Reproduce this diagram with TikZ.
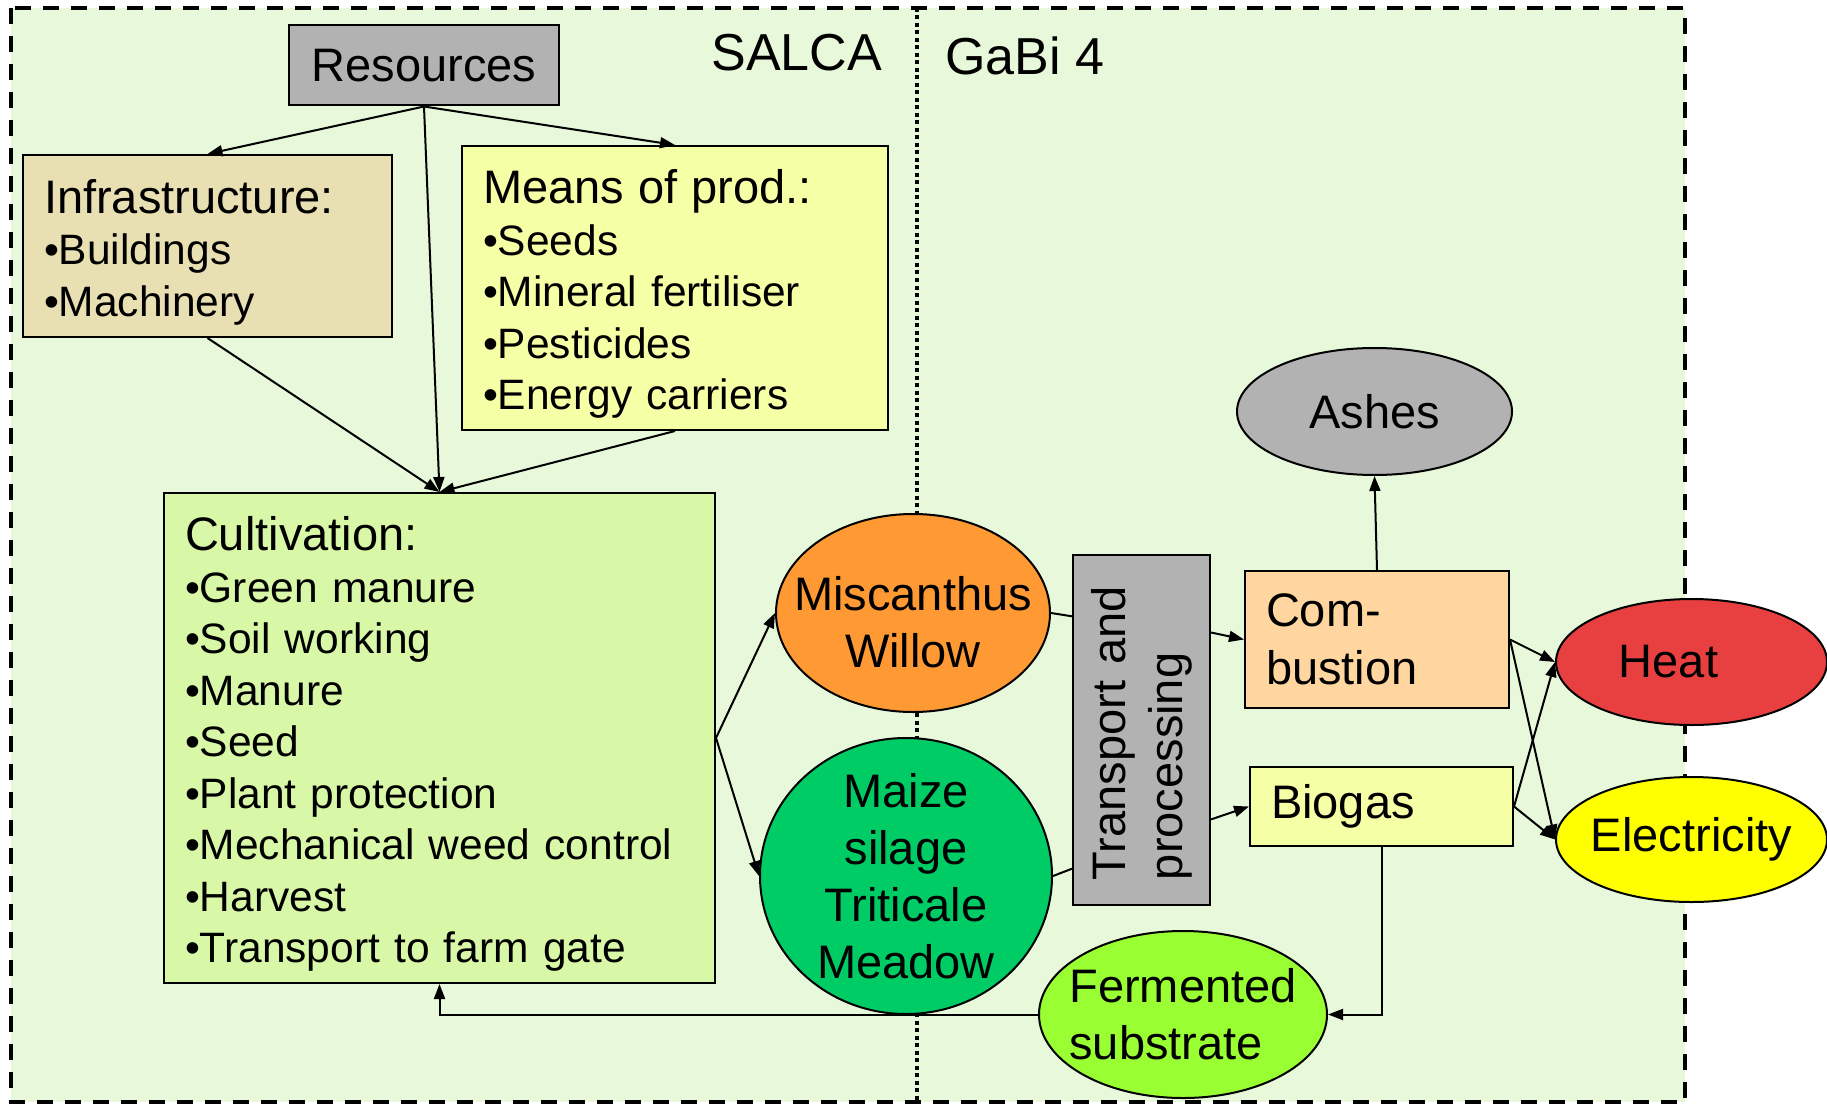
\documentclass[tikz,border=0pt]{standalone}
\usepackage{fontspec}
\setmainfont{Liberation Sans}
\usetikzlibrary{shapes.geometric, arrows.meta, calc}

\definecolor{bggreen}{RGB}{232,248,218}
\definecolor{boxgray}{RGB}{178,178,178}
\definecolor{infratan}{RGB}{232,224,178}
\definecolor{meanyellow}{RGB}{245,255,165}
\definecolor{cultgreen}{RGB}{216,248,168}
\definecolor{miscorange}{RGB}{255,153,51}
\definecolor{maizegreen}{RGB}{0,204,102}
\definecolor{combpeach}{RGB}{255,213,160}
\definecolor{heatred}{RGB}{232,64,64}
\definecolor{elecyellow}{RGB}{255,255,0}
\definecolor{fermgreen}{RGB}{153,255,51}

\newcommand{\headline}[1]{{\fontsize{47}{51.5}\selectfont\rule{0pt}{46pt}#1}}

\begin{document}
\begin{tikzpicture}[x=1pt, y=-1pt,
                    every node/.style={font=\fontsize{47}{57}\selectfont, line width=2pt},
                    box/.style={draw, rectangle, inner xsep=21pt, inner ysep=0pt},
                    listbox/.style={box, align=left, anchor=north west,
                                    font=\fontsize{42.5}{51.5}\selectfont},
                    blob/.style={draw, ellipse, inner sep=-100pt, align=center},
                    flow/.style={line width=2pt, -{Triangle[length=15pt,width=11pt]}},
                    link/.style={line width=2pt}]
    \useasboundingbox (0,0) rectangle (1827,1107);
    % frame and the SALCA / GaBi split
    \draw[fill=bggreen, line width=3.5pt, dash pattern=on 16pt off 12pt] (11,8) rectangle (1685,1102);
    \draw[line width=4pt, dash pattern=on 4pt off 3.5pt] (917,8) -- (917,1102);
    \node[anchor=base east, inner sep=0pt, font=\fontsize{52}{60}\selectfont] (salca) at (883,71) {SALCA};
    \node[anchor=base west, inner sep=0pt, font=\fontsize{52}{60}\selectfont] (gabi) at (944,75) {GaBi 4};

    % SALCA side
    \node[box, fill=boxgray, minimum width=270pt, minimum height=80pt] (resources) at (424,65.5) {Resources};
    \node[listbox, fill=infratan, text width=327pt, minimum height=182pt] (infra) at (22,154)
        {\headline{Infrastructure:}\\ •Buildings\\ •Machinery};
    \node[listbox, fill=meanyellow, text width=384pt, minimum height=284pt] (means) at (461,145)
        {\headline{Means of prod.:}\\ •Seeds\\ •Mineral fertiliser\\ •Pesticides\\ •Energy carriers};
    \node[listbox, fill=cultgreen, text width=509pt, minimum height=490pt] (cult) at (163,492)
        {\headline{Cultivation:}\\ •Green manure\\ •Soil working\\ •Manure\\ •Seed\\
         •Plant protection\\ •Mechanical weed control\\ •Harvest\\ •Transport to farm gate};
    \node[blob, fill=miscorange, minimum width=274pt, minimum height=198pt] (misc) at (913,613)
        {\rule{0pt}{52pt}Miscanthus\\Willow};
    \node[blob, fill=maizegreen, minimum width=292pt, minimum height=276pt] (maize) at (906,876)
        {Maize\\silage\\Triticale\\Meadow};

    % GaBi side (transport box is turned, so its north side is the left one)
    \node[box, fill=boxgray, rotate=90, minimum width=350pt, minimum height=137pt,
          text width=300pt, inner xsep=25pt, align=left] (transport) at (1141.5,730)
        {Transport and\\processing};
    \node[box, fill=combpeach, text width=222pt, minimum height=137pt, align=left,
          anchor=north west, font=\fontsize{47}{58}\selectfont] (comb) at (1244,570) {Com-\\bustion};
    \node[box, fill=meanyellow, text width=221pt, minimum height=79pt, align=left,
          anchor=north west] (biogas) at (1249,766) {Biogas};
    \node[blob, fill=boxgray, minimum width=275pt, minimum height=127pt] (ashes) at (1374.5,411.5) {Ashes};
    \node[blob, fill=heatred, minimum width=271pt, minimum height=126pt] (heat) at (1691.5,662)
        {Heat\hspace*{46pt}};
    \node[blob, fill=elecyellow, minimum width=271pt, minimum height=125pt] (elec) at (1691.5,839.5)
        {Electricity};
    \node[blob, fill=fermgreen, minimum width=288pt, minimum height=167pt, align=left] (ferm) at (1183,1014.5)
        {Fermented\\substrate};

    % connectors
    \draw[flow] (resources.south) -- (infra.north);
    \draw[flow] (resources.south) -- (means.north);
    \draw[flow] (resources.south) -- (cult.north);
    \draw[flow] (infra.south) -- (cult.north);
    \draw[flow] (means.south) -- (cult.north);
    \draw[flow] (cult.east) -- (misc.west);
    \draw[flow] (cult.east) -- (maize.west);
    \draw[link] (misc.east) -- ($(transport.north east)!0.177!(transport.north west)$);
    \draw[link] (maize.east) -- ($(transport.north east)!0.894!(transport.north west)$);
    \draw[flow] ($(transport.south east)!0.223!(transport.south west)$) -- (comb.west);
    \draw[flow] ($(transport.south east)!0.754!(transport.south west)$) -- (biogas.west);
    \draw[flow] (comb.north) -- (ashes.south);
    \draw[flow] (comb.east) -- (heat.west);
    \draw[flow] (comb.east) -- (elec.west);
    \draw[flow] (biogas.east) -- (heat.west);
    \draw[flow] (biogas.east) -- (elec.west);
    \draw[flow] (biogas.south) |- (ferm.east);
    \draw[flow] (ferm.west) -| (cult.south);
\end{tikzpicture}
\end{document}
